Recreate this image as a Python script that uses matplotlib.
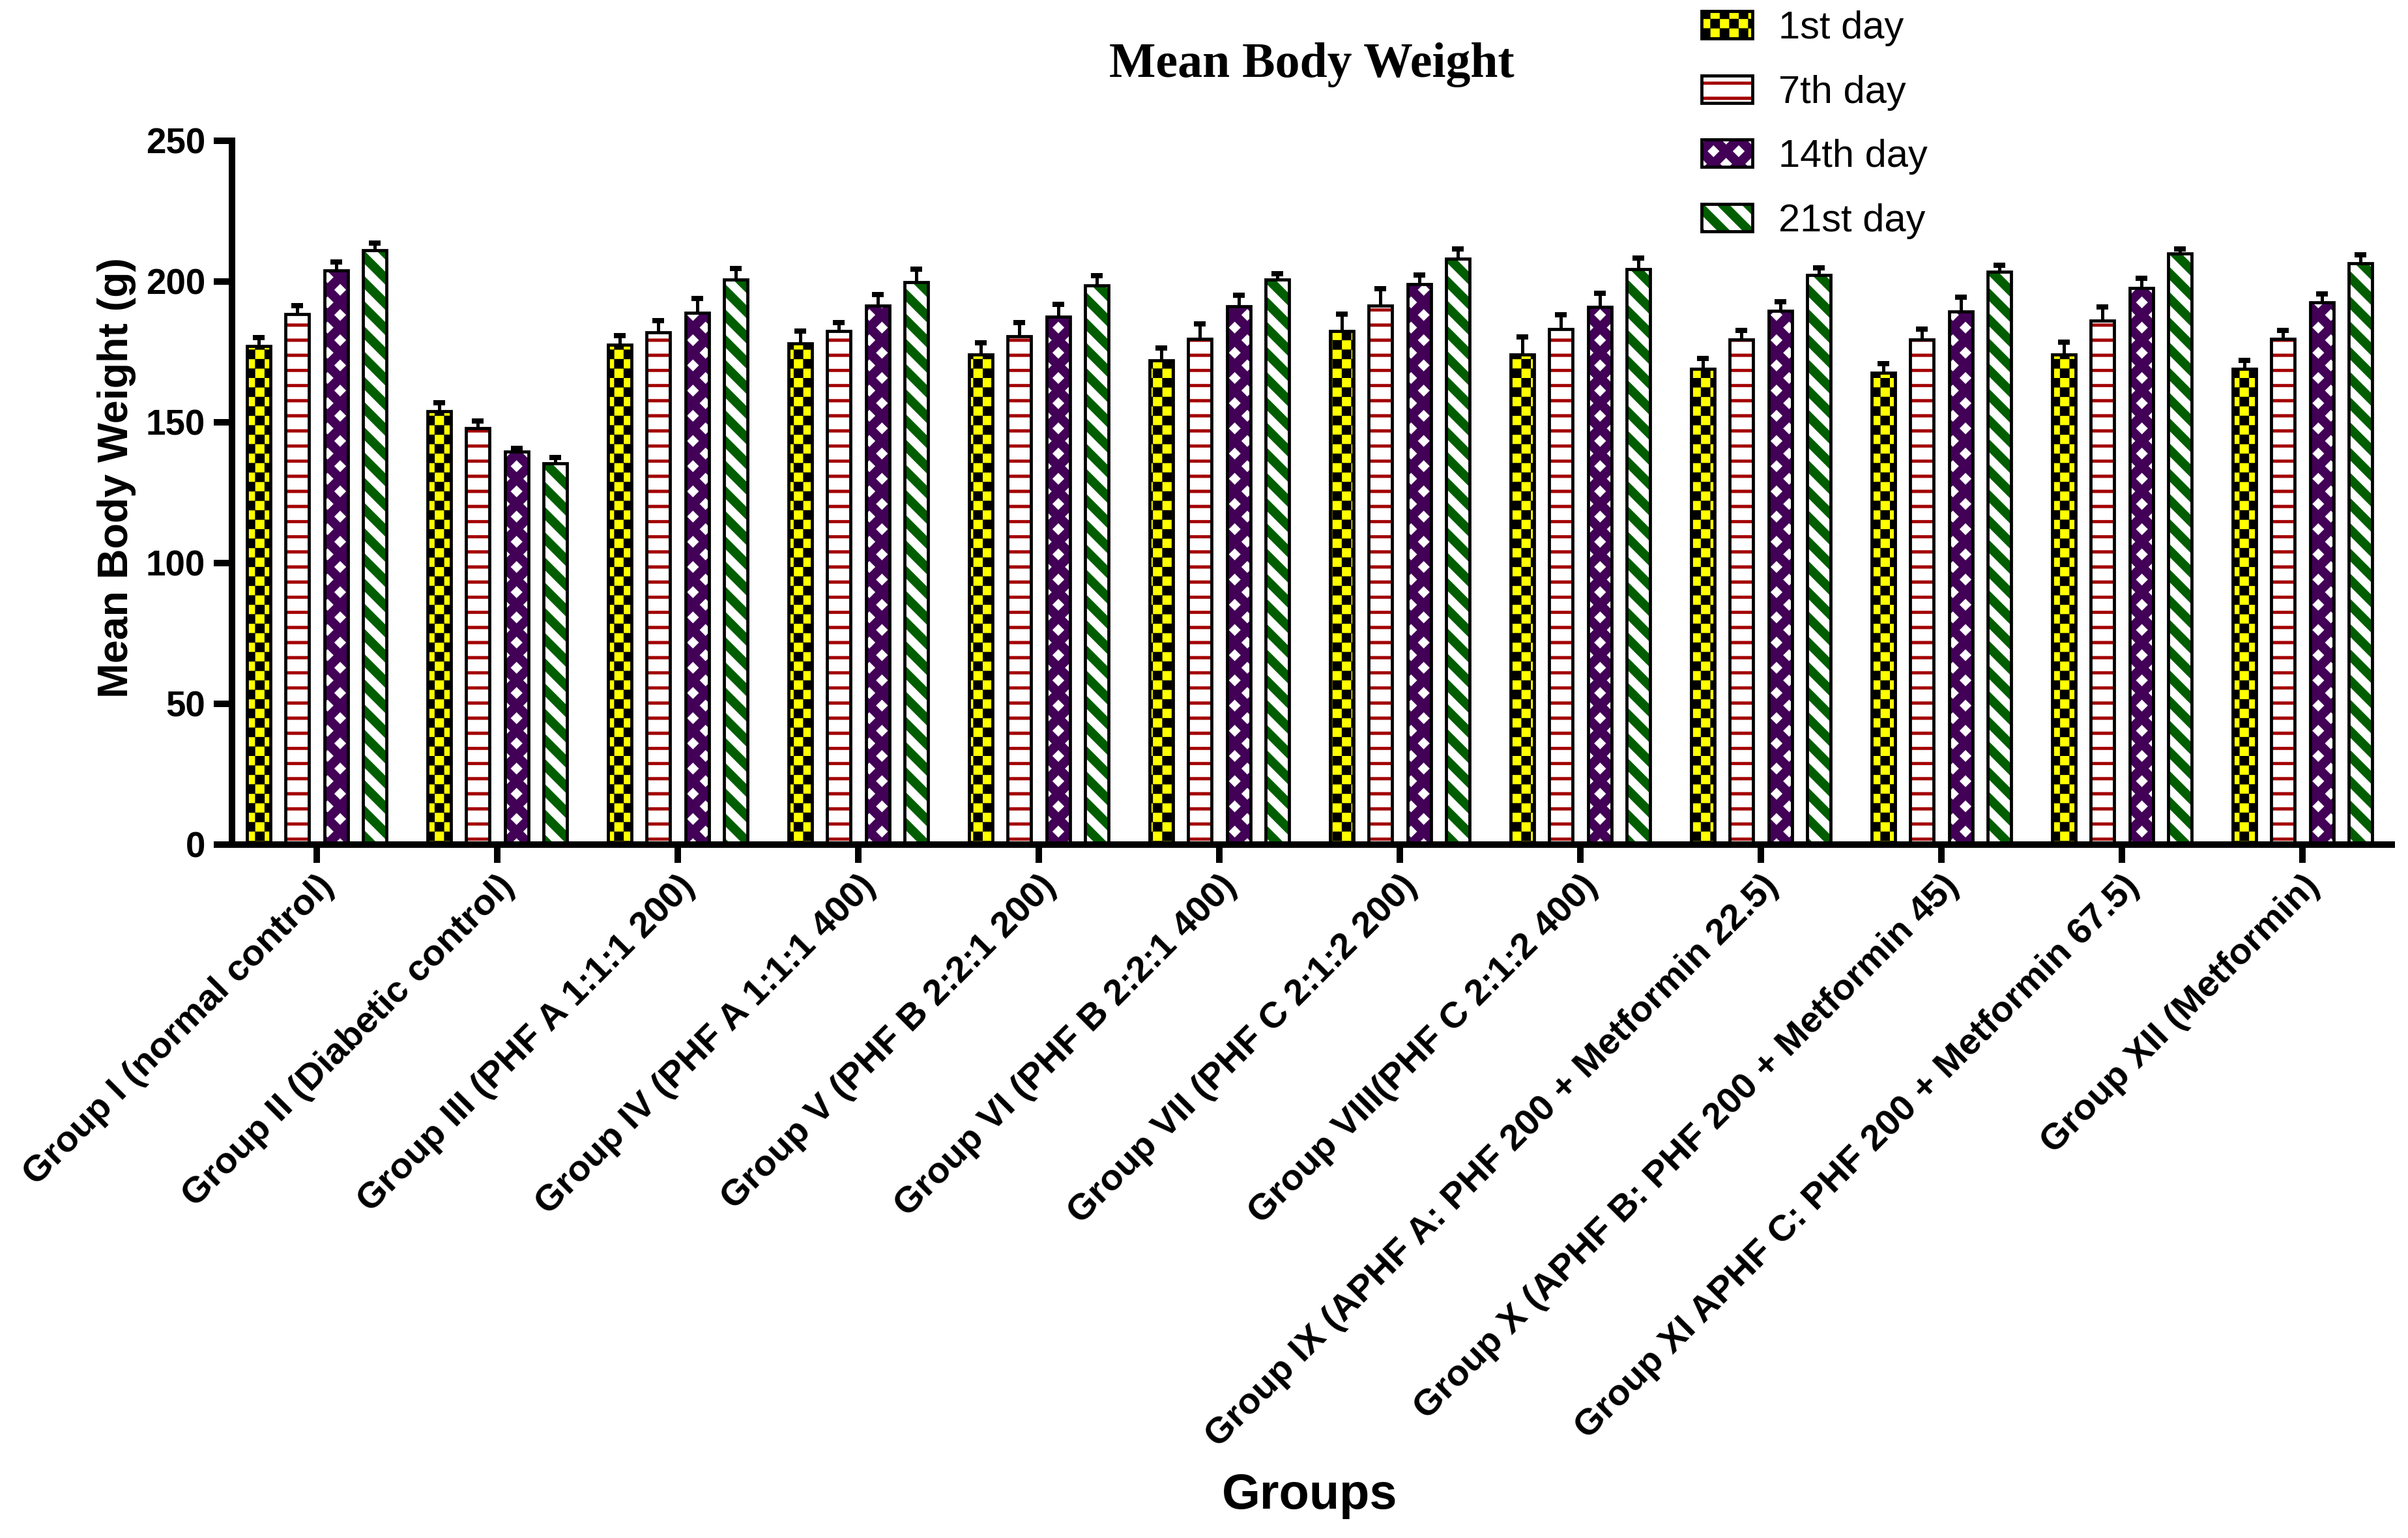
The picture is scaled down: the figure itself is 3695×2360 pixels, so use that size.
import numpy as np
import matplotlib
matplotlib.use("Agg")
import matplotlib.pyplot as plt
import matplotlib.patches as mpatches
import matplotlib.hatch as mhatch
from matplotlib.path import Path

# data
groups = ["Group I (normal control)", "Group II (Diabetic control)",
          "Group III (PHF A 1:1:1 200)", "Group IV (PHF A 1:1:1 400)",
          "Group V (PHF B 2:2:1 200)", "Group VI (PHF B 2:2:1 400)",
          "Group VII (PHF C 2:1:2 200)", "Group VIII(PHF C 2:1:2 400)",
          "Group IX (APHF A: PHF 200 + Metformin 22.5)",
          "Group X (APHF B: PHF 200 + Metformin 45)",
          "Group XI APHF C: PHF 200 + Metformin 67.5)",
          "Group XII (Metformin)"]
days = ["1st day", "7th day", "14th day", "21st day"]

day1 = [177, 154, 177.5, 178, 174, 172, 182.5, 174, 169, 167.5, 174, 169]
day1_err = [3, 3, 3.3, 4.4, 4.2, 4.4, 6, 6.4, 3.6, 3.3, 4.4, 3]
day7 = [188.5, 148, 182, 182.3, 180.5, 179.6, 191.4, 183, 179.4, 179.4, 186, 179.6]
day7_err = [3, 2.5, 4, 3.2, 4.9, 5.3, 6, 5.3, 3.2, 3.6, 4.9, 3]
day14 = [204, 139.5, 189, 191.4, 187.4, 191.1, 199, 191, 189.5, 189.4, 197.6, 192.5]
day14_err = [3, 1.3, 5, 4, 4.6, 4, 3.2, 4.8, 3.3, 5, 3.5, 3.2]
day21 = [211, 135.5, 200.6, 199.7, 198.7, 200.6, 208.2, 204.3, 202.2, 203.4, 210, 206.4]
day21_err = [2.6, 2, 4, 4.6, 3.3, 2.2, 3.3, 4.1, 2.6, 2.3, 1.5, 3.2]


# ---- custom fill patterns (hatch tile = dpi pixels) ----
class PolyHatch(mhatch.HatchPatternBase):
    char = None

    def __init__(self, hatch, density):
        self.polys = self.make_polys() if self.char in hatch else []
        self.num_vertices = sum(len(p) + 1 for p in self.polys)
        self.filled = True

    def set_vertices_and_codes(self, vertices, codes):
        i = 0
        for p in self.polys:
            n = len(p)
            vertices[i:i + n] = p
            vertices[i + n] = p[0]
            codes[i] = Path.MOVETO
            codes[i + 1:i + n] = Path.LINETO
            codes[i + n] = Path.CLOSEPOLY
            i += n + 1


class Checker(PolyHatch):
    char = "."

    def make_polys(self):
        c = 1 / 8
        polys = []
        for i in range(8):
            for j in range(8):
                if (i + j) % 2 == 0:
                    x, y = i * c, j * c
                    polys.append([(x, y), (x + c, y), (x + c, y + c), (x, y + c)])
        return polys


class HLines(PolyHatch):
    char = "-"

    def make_polys(self):
        t = 0.04
        polys = []
        for k in range(5):
            y = (k + 0.5) / 5
            polys.append([(-0.02, y - t / 2), (1.02, y - t / 2),
                          (1.02, y + t / 2), (-0.02, y + t / 2)])
        return polys


class Diamonds(PolyHatch):
    char = "x"

    def make_polys(self):
        p = 1 / 3
        a = 0.23 * p
        polys = []
        for i in range(-1, 5):
            for j in range(-1, 5):
                for cx, cy in [(i * p, j * p), (i * p + p / 2, j * p + p / 2)]:
                    polys.append([(cx - a, cy), (cx, cy - a), (cx + a, cy), (cx, cy + a)])
        return polys


class Stripes(PolyHatch):
    char = "\\"

    def make_polys(self):
        w = 0.5 / 3
        x0, x1 = -0.1, 1.1
        polys = []
        for k in range(-2, 9):
            c = k / 3
            polys.append([(x0, -x0 + c), (x1, -x1 + c), (x1, -x1 + c + w), (x0, -x0 + c + w)])
        return polys


mhatch._hatch_types = [Checker, HLines, Diamonds, Stripes]

plt.rcParams["hatch.linewidth"] = 0.2
plt.rcParams["font.family"] = ["Liberation Sans", "DejaVu Sans"]

DPI = 116
PT = 72 / DPI  # points per pixel

fig = plt.figure(figsize=(3695 / DPI, 2360 / DPI), dpi=DPI)
ax = fig.add_axes([356 / 3695, 1 - 1296 / 2360, 3314 / 3695, 1080 / 2360])

series = [day1, day7, day14, day21]
errors = [day1_err, day7_err, day14_err, day21_err]
faces = ["#FFFF00", "white", "#420057", "white"]
hatch_colors = ["black", "#A30000", "white", "#005E00"]
hatches = [".", "-", "x", "\\"]

x = np.arange(len(groups))
pitch = 0.215
width = 0.13
edge_lw = 4.8 * PT

handles = []
for i in range(4):
    pos = x + (i - 1.5) * pitch
    ax.bar(pos, series[i], width, color=faces[i], edgecolor=hatch_colors[i],
           hatch=hatches[i], linewidth=0, zorder=2)
    ax.bar(pos, series[i], width, fill=False, edgecolor="black",
           linewidth=edge_lw, zorder=2.1)
    eb = ax.errorbar(pos, series[i], yerr=[np.zeros(len(groups)), errors[i]],
                     fmt="none", ecolor="black", elinewidth=5 * PT,
                     capsize=9 * PT, capthick=8 * PT, zorder=3)
    eb[1][0].set_visible(False)
    fill_h = mpatches.Patch(facecolor=faces[i], edgecolor=hatch_colors[i],
                            hatch=hatches[i], linewidth=0)
    edge_h = mpatches.Patch(fill=False, edgecolor="black", linewidth=edge_lw)
    handles.append((fill_h, edge_h))

ax.set_xlim(-0.469, 11.495)
ax.set_ylim(0, 250)
ax.set_yticks([0, 50, 100, 150, 200, 250])
ax.set_xticks(x)
ax.set_xticklabels(groups, rotation=45, ha="right", va="top",
                   rotation_mode="anchor", fontsize=35, fontweight="bold")
for lab in ax.get_yticklabels():
    lab.set_fontsize(34)
    lab.set_fontweight("bold")

for side in ["top", "right"]:
    ax.spines[side].set_visible(False)
for side in ["left", "bottom"]:
    ax.spines[side].set_linewidth(10 * PT)
ax.tick_params(axis="both", direction="out", length=28 * PT, width=10 * PT)
ax.tick_params(axis="y", pad=8)
ax.tick_params(axis="x", pad=6)

ax.set_ylabel("Mean Body Weight (g)", fontsize=40, fontweight="bold")
ax.yaxis.set_label_coords(-0.0444, 0.521)
ax.set_xlabel("Groups", fontsize=47, fontweight="bold")
ax.xaxis.set_label_coords(0.499, -0.8926)

ax.set_title("Mean Body Weight", fontsize=47, fontweight="bold",
             family=["Liberation Serif", "DejaVu Serif"], y=1.0907, pad=0)

fig.legend(handles, days, loc="upper left", bbox_to_anchor=(2611 / 3695, 1 - 16 / 2360),
           bbox_transform=fig.transFigure, frameon=False, fontsize=37,
           handlelength=1.31, handleheight=0.7, handletextpad=0.67,
           labelspacing=0.73, borderpad=0, borderaxespad=0)

fig.savefig("out.png", dpi=DPI)
